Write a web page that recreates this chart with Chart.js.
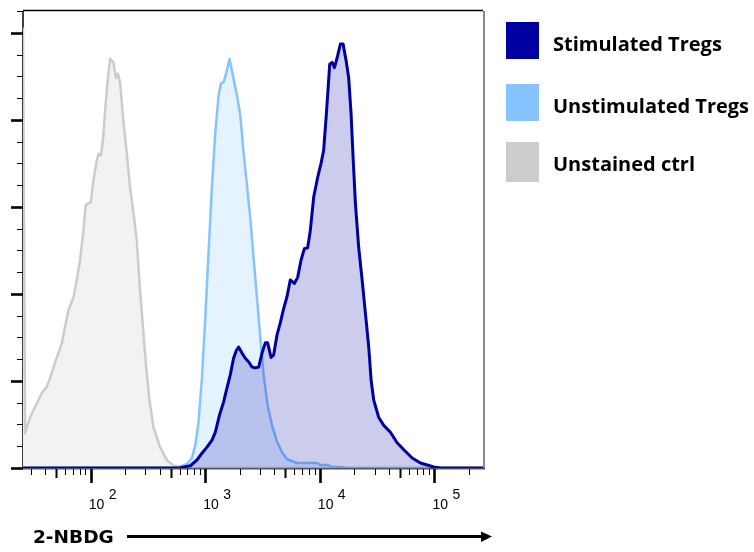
<!DOCTYPE html>
<html>
<head>
<meta charset="utf-8">
<title>2-NBDG uptake</title>
<script src="https://cdn.jsdelivr.net/npm/chart.js@4"></script>
<style>
  html, body { margin: 0; padding: 0; background: #fff; }
  #wrap { position: relative; width: 754px; height: 552px; }
</style>
</head>
<body>
<div id="wrap"><canvas id="hist" width="754" height="552"></canvas></div>
<script>
// histogram traces: x = 2-NBDG intensity, y = count
const stimX = [25.7, 605, 740, 847, 936, 1035, 1145, 1223, 1333, 1446,
  1548, 1653, 1766, 1866, 1954, 2093, 2235, 2388, 2557, 2733,
  2923, 3129, 3344, 3501, 3750, 3953, 4230, 4520, 4830, 5170,
  5523, 5987, 6400, 6852, 7325, 7822, 8258, 8827, 9570, 10240,
  10790, 11400, 12190, 12790, 13400, 14130, 15100, 15950, 17040, 17850,
  18720, 19490, 20420, 21830, 23370, 24960, 26690, 27990, 29510, 32640,
  36070, 41260, 47230, 53990, 63870, 75430, 86340, 98700, 112800, 265000];
const stimY = [0, 0.3, 2.6, 9.2, 17, 24, 32, 41, 61, 76,
  92, 107, 126, 135, 139, 132, 126, 122, 116, 115,
  116, 132, 144, 144, 127, 130, 153, 167, 183, 197,
  216, 212, 219, 239, 252, 253, 273, 311, 334, 350,
  365, 407, 464, 466, 460, 471, 487, 487, 466, 448,
  407, 357, 304, 253, 216, 178, 139, 101, 78, 58,
  49, 41, 29, 21, 11.5, 5.7, 3.4, 1.1, 0, 0];

const unstimX = [25.7, 547, 605, 692, 765, 818, 874, 935, 1000, 1069, 1145,
  1223, 1307, 1371, 1446, 1525, 1630, 1746, 1892, 2023, 2160,
  2312, 2472, 2642, 2830, 3023, 3230, 3501, 3828, 4230, 4674,
  5170, 6324, 9460, 10100, 11860, 12360, 16040, 16700, 265000];
const unstimY = [0, 0.5, 1.5, 4.6, 11.5, 26, 53, 103, 172, 248, 325,
  385, 428, 442, 443, 454, 470, 450, 428, 405, 362,
  325, 287, 241, 195, 149, 107, 72, 49, 30, 18,
  10, 5.7, 5.7, 3.4, 3.4, 1.5, 0.8, 0, 0];

const ctrlX = [25.7, 26.8, 29.6, 32.7, 37.5, 41.4, 45.8, 50.7, 56, 59.8,
  64, 70.8, 75.7, 80.9, 86.5, 90.8, 95.7, 100.4, 105.7, 113,
  117, 123, 128, 134, 140, 148, 158, 166, 173, 181,
  193, 207, 221, 237, 253, 261, 274, 289, 305, 326,
  353, 404, 463, 529, 605, 683, 265000];
const ctrlY = [506, 40, 58, 70, 86, 93, 109, 127, 143, 162,
  181, 196, 216, 239, 273, 302, 304, 305, 330, 353,
  361, 359, 376, 411, 442, 470, 466, 448, 453, 442,
  399, 361, 322, 292, 261, 231, 193, 155, 116, 78,
  47, 24, 9, 3, 1, 0, 0];

const seriesNames = ['Stimulated Tregs', 'Unstimulated Tregs', 'Unstained ctrl'];
const decadeTicks = [100, 1000, 10000, 100000];
const decadeExps = ['2', '3', '4', '5'];
const xMin = 25.7, xMax = 265000;
const yMax = 525;
const axisTitle = '2-NBDG';

const DARK = 'rgb(0,0,160)';
const LIGHT = 'rgb(135,195,255)';
const GREY = 'rgb(204,204,204)';

function pts(xs, ys) {
  return xs.map((x, i) => ({ x: x, y: ys[i] }));
}

// frame, ticks, tick labels, axis title + arrow, legend
const flowAxes = {
  id: 'flowAxes',
  beforeDatasetsDraw(chart) {
    const { ctx, chartArea: a } = chart;
    ctx.save();
    ctx.strokeStyle = '#000';
    ctx.lineWidth = 1.5;
    ctx.beginPath();
    ctx.moveTo(a.left, a.top - 0.5); ctx.lineTo(a.right, a.top - 0.5);
    ctx.moveTo(a.left, a.top); ctx.lineTo(a.left, a.bottom);
    ctx.stroke();
    ctx.strokeStyle = '#8a8a8a';
    ctx.lineWidth = 2;
    ctx.beginPath();
    ctx.moveTo(a.right + 1, a.top); ctx.lineTo(a.right + 1, a.bottom + 1);
    ctx.stroke();
    ctx.strokeStyle = '#555';
    ctx.beginPath();
    ctx.moveTo(a.left, a.bottom + 0.5); ctx.lineTo(a.right + 2, a.bottom + 0.5);
    ctx.stroke();
    ctx.restore();
  },
  afterDraw(chart) {
    const { ctx, chartArea: a } = chart;
    const xs = chart.scales.x, ys = chart.scales.y;
    ctx.save();
    ctx.strokeStyle = '#000';

    // y ticks: major every 100, minor every 25
    for (let v = 0; v <= yMax; v += 25) {
      const y = Math.round(ys.getPixelForValue(v)) + 0.5;
      const major = v % 100 === 0;
      ctx.lineWidth = major ? 2.6 : 1;
      ctx.beginPath();
      ctx.moveTo(major ? a.left - 12 : a.left - 6, y);
      ctx.lineTo(a.left, y);
      ctx.stroke();
    }

    // x ticks on log decades
    for (let d = 10; d <= 100000; d *= 10) {
      for (let m = 1; m <= 9; m++) {
        const v = d * m;
        if (v < xMin || v > xMax) continue;
        const x = Math.round(xs.getPixelForValue(v)) + 0.5;
        let len = 6, w = 1;
        if (m === 1) { len = 14; w = 2.6; }
        else if (m === 5) { len = 9; w = 2; }
        ctx.lineWidth = w;
        ctx.beginPath();
        ctx.moveTo(x, a.bottom + 1);
        ctx.lineTo(x, a.bottom + 1 + len);
        ctx.stroke();
      }
    }

    // decade labels 10^n
    ctx.fillStyle = '#000';
    ctx.textBaseline = 'alphabetic';
    ctx.textAlign = 'left';
    ctx.font = '14px "Liberation Sans", Arial, sans-serif';
    decadeTicks.forEach((v, i) => {
      const x = xs.getPixelForValue(v) - 2;
      ctx.fillText('10', x, 508.5);
      ctx.fillText(decadeExps[i], x + 20, 498.5);
    });

    // axis title with arrow
    ctx.font = 'bold 18.5px "DejaVu Sans", sans-serif';
    ctx.fillText(axisTitle, 33, 543);
    ctx.lineWidth = 3;
    ctx.beginPath();
    ctx.moveTo(127, 536.5);
    ctx.lineTo(483, 536.5);
    ctx.stroke();
    ctx.beginPath();
    ctx.moveTo(481, 531.5);
    ctx.lineTo(492, 536.5);
    ctx.lineTo(481, 542);
    ctx.closePath();
    ctx.fill();

    // legend
    const colors = [DARK, LIGHT, GREY];
    const boxTops = [22, 84, 142];
    const boxH = [37, 37, 40];
    const baselines = [51, 113, 171];
    ctx.font = 'bold 20px "Open Sans", sans-serif';
    seriesNames.forEach((name, i) => {
      ctx.fillStyle = colors[i];
      ctx.fillRect(506, boxTops[i], 33, boxH[i]);
      ctx.fillStyle = '#000';
      ctx.fillText(name, 553, baselines[i]);
    });
    ctx.restore();
  }
};

function line(label, xs, ys, color, fillColor, width) {
  return {
    label: label,
    data: pts(xs, ys),
    borderColor: color,
    backgroundColor: fillColor,
    borderWidth: width,
    fill: 'origin',
    pointRadius: 0,
    tension: 0,
    borderJoinStyle: 'round'
  };
}

new Chart(document.getElementById('hist'), {
  type: 'line',
  data: {
    datasets: [
      line(seriesNames[0], stimX, stimY, DARK, 'rgba(0,0,160,0.2)', 3),
      line(seriesNames[1], unstimX, unstimY, LIGHT, 'rgba(135,195,255,0.22)', 2.5),
      line(seriesNames[2], ctrlX, ctrlY, GREY, 'rgb(242,242,242)', 2.5)
    ]
  },
  options: {
    responsive: false,
    devicePixelRatio: 1,
    animation: false,
    layout: { padding: { left: 23, top: 11, right: 271, bottom: 84 } },
    plugins: { legend: { display: false }, tooltip: { enabled: false } },
    scales: {
      x: { type: 'logarithmic', min: xMin, max: xMax, display: false },
      y: { type: 'linear', min: 0, max: yMax, display: false }
    }
  },
  plugins: [flowAxes]
});
</script>
</body>
</html>
